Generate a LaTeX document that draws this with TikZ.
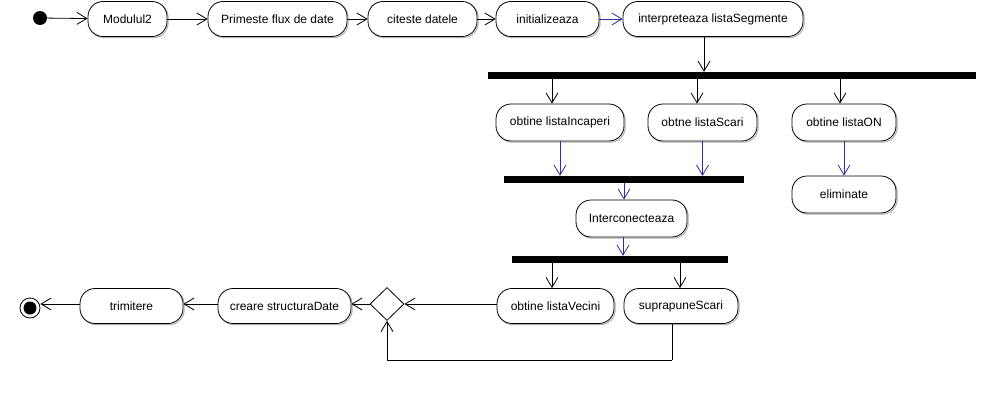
\documentclass[tikz,border=0pt]{standalone}
\usepackage{fontspec}
\setmainfont{Liberation Sans}
\usetikzlibrary{arrows.meta,shapes.geometric}
\definecolor{flowblue}{RGB}{45,45,165}
\definecolor{shadowgray}{RGB}{175,175,175}
\tikzset{
  act/.style={draw=black, line width=0.8pt, rounded corners=15pt, minimum height=35pt,
    inner sep=0pt, font=\fontsize{12}{14}\selectfont, fill=white,
    preaction={draw=shadowgray, line width=1pt, transform canvas={shift={(1.2pt,-1.2pt)}}}},
  bar/.style={fill=black, draw=none, minimum height=7pt, inner sep=0pt},
  arr/.style={draw=black, line width=0.8pt, -{Straight Barb[length=10pt,width=12pt,line width=0.8pt]}},
  barr/.style={arr, draw=flowblue, -{Straight Barb[length=10pt,width=12pt,line width=0.8pt,color=flowblue]}},
  ln/.style={draw=black, line width=0.8pt}
}
\begin{document}
\begin{tikzpicture}[x=1pt,y=-1pt]
\useasboundingbox (0,0) rectangle (998,401);
% start / end
\node[circle, fill=black, minimum size=14pt, inner sep=0pt] (start) at (40,18) {};
\node[circle, draw=black, line width=0.8pt, fill=white, minimum size=20pt, inner sep=0pt] (endo) at (30,308) {};
\node[circle, fill=black, minimum size=13pt, inner sep=0pt] (endi) at (30,308) {};
% top row
\node[act, minimum width=79pt] (mod) at (127.5,19) {Modulul2};
\node[act, minimum width=139pt] (prim) at (277.5,19) {Primeste flux de date};
\node[act, minimum width=109pt] (cit) at (422.5,19) {citeste datele};
\node[act, minimum width=103pt] (init) at (547.5,19) {initializeaza};
\node[act, minimum width=180pt] (interp) at (713,19) {interpreteaza listaSegmente};
% bars
\node[bar, minimum width=488pt] (bar1) at (732,75.5) {};
\node[bar, minimum width=240pt] (bar2) at (624,179.5) {};
\node[bar, minimum width=216pt] (bar3) at (620,259.5) {};
% middle
\node[act, minimum width=128pt, minimum height=37pt] (inc) at (560,122.5) {obtine listaIncaperi};
\node[act, minimum width=109pt, minimum height=37pt] (sca) at (702.5,122.5) {obtne listaScari};
\node[act, minimum width=104pt, minimum height=37pt] (on) at (844,122.5) {obtine listaON};
\node[act, minimum width=104pt, minimum height=37pt] (elim) at (844,194.5) {eliminate};
\node[act, minimum width=111pt, minimum height=37pt] (inter) at (631.5,218.5) {Interconecteaza};
% bottom row
\node[act, minimum width=117pt] (vec) at (555.5,306) {obtine listaVecini};
\node[act, minimum width=114pt] (sup) at (681,306) {suprapuneScari};
\node[diamond, draw=black, line width=0.8pt, fill=white, minimum width=34pt, minimum height=33pt, inner sep=0pt, aspect=1] (dec) at (387,304) {};
\node[act, minimum width=133pt] (cre) at (284.5,306) {creare structuraDate};
\node[act, minimum width=103pt] (trim) at (131.5,306) {trimitere};
% top flow
\draw[arr] (start) -- (mod);
\draw[arr] (mod) -- (prim);
\draw[arr] (prim) -- (cit);
\draw[arr] (cit) -- (init);
\draw[barr] (init) -- (interp);
\draw[arr] ([xshift=-9pt]interp.south) -- ([xshift=-9pt]interp.south |- bar1.north);
% fork 1
\draw[arr] ([xshift=-8pt]inc.north |- bar1.south) -- ([xshift=-8pt]inc.north);
\draw[arr] ([xshift=-5.5pt]sca.north |- bar1.south) -- ([xshift=-5.5pt]sca.north);
\draw[arr] ([xshift=-4pt]on.north |- bar1.south) -- ([xshift=-4pt]on.north);
% join 2
\draw[barr] (inc.south) -- (inc.south |- bar2.north);
\draw[barr] (sca.south) -- (sca.south |- bar2.north);
\draw[barr] (on.south) -- (elim.north);
\draw[barr] ([xshift=-7.5pt]inter.north |- bar2.south) -- ([xshift=-7.5pt]inter.north);
\draw[barr] ([xshift=-8.5pt]inter.south) -- ([xshift=-8.5pt]inter.south |- bar3.north);
% fork 3
\draw[arr] ([xshift=-3.5pt]vec.north |- bar3.south) -- ([xshift=-3.5pt]vec.north);
\draw[arr] ([xshift=-1pt]sup.north |- bar3.south) -- ([xshift=-1pt]sup.north);
% bottom flow
\draw[arr] (vec.west |- dec.east) -- (dec.east);
\draw[ln] ([xshift=-9pt]sup.south) -- ++(0,36) coordinate (lp);
\draw[arr] (lp) -| (dec.south);
\draw[arr] (dec.west) -- (cre.east |- dec.west);
\draw[arr] (cre.west |- dec.west) -- (trim.east |- dec.west);
\draw[arr] (trim.west |- dec.west) -- (endo.east |- dec.west);
\end{tikzpicture}
\end{document}
